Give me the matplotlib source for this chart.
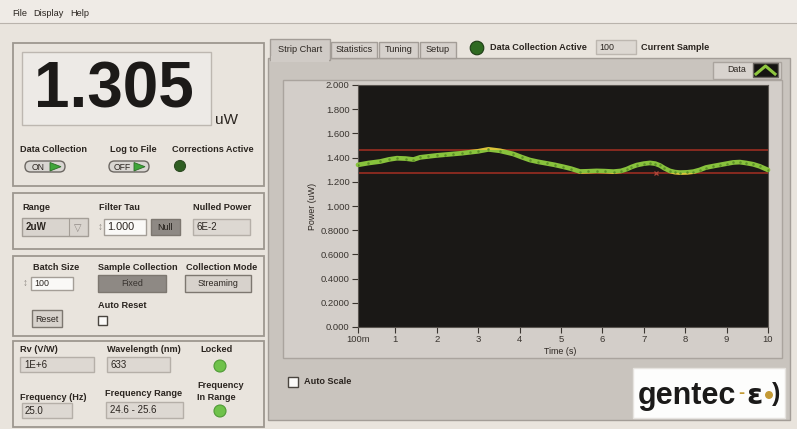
import matplotlib
matplotlib.use("Agg")
import matplotlib.pyplot as plt
from matplotlib.patches import Rectangle, FancyBboxPatch, Circle, Polygon

W, H = 797, 429
FONT = ["Liberation Sans", "DejaVu Sans"]

# strip chart samples
time_s = [0.1, 0.35, 0.64, 0.85, 1.04, 1.25, 1.44, 1.6, 1.8, 2.0, 2.2, 2.4, 2.6,
          2.8, 3.0, 3.25, 3.53, 3.85, 4.05, 4.25, 4.45, 4.66, 4.85, 5.06, 5.25,
          5.46, 5.66, 5.86, 6.06, 6.27, 6.45, 6.59, 6.7, 6.83, 7.0, 7.15, 7.28,
          7.39, 7.5, 7.63, 7.75, 7.87, 8.05, 8.2, 8.35, 8.5, 8.68, 8.84, 9.0,
          9.16, 9.32, 9.48, 9.64, 9.8, 10.0]
power_uw = [1.34, 1.355, 1.368, 1.385, 1.395, 1.392, 1.384, 1.402, 1.41, 1.418,
            1.424, 1.43, 1.436, 1.444, 1.452, 1.468, 1.456, 1.43, 1.404, 1.38,
            1.365, 1.352, 1.34, 1.324, 1.308, 1.285, 1.287, 1.29, 1.288, 1.284,
            1.29, 1.305, 1.322, 1.338, 1.35, 1.356, 1.35, 1.335, 1.312, 1.29,
            1.28, 1.276, 1.278, 1.284, 1.298, 1.318, 1.33, 1.34, 1.35, 1.36,
            1.363, 1.355, 1.345, 1.328, 1.298]
limit_high = 1.464
limit_low = 1.276
cursor_t = [7.3]
cursor_p = [1.275]

y_ticks = [0.0, 0.2, 0.4, 0.6, 0.8, 1.0, 1.2, 1.4, 1.6, 1.8, 2.0]
y_labels = ["0.000", "0.2000", "0.4000", "0.6000", "0.8000", "1.000",
            "1.200", "1.400", "1.600", "1.800", "2.000"]
x_ticks = [0.1, 1, 2, 3, 4, 5, 6, 7, 8, 9, 10]
x_labels = ["100m", "1", "2", "3", "4", "5", "6", "7", "8", "9", "10"]

BEIGE = "#e9e4dd"
GRAY = "#c9c4be"
EDGE = "#9d978f"
BOX = "#ddd8d2"

fig = plt.figure(figsize=(W / 100, H / 100), dpi=100)
fig.patch.set_facecolor(BEIGE)
ui = fig.add_axes([0, 0, 1, 1])
ui.set_xlim(0, W)
ui.set_ylim(H, 0)
ui.axis("off")


def rect(x, y, w, h, fc, ec=EDGE, lw=1.0, z=1):
    ui.add_patch(Rectangle((x, y), w, h, facecolor=fc, edgecolor=ec, lw=lw, zorder=z))


def label(x, y, s, size=6.6, bold=True, ha="left", color="#2b2520", **kw):
    ui.text(x, y, s, fontsize=size, fontweight="bold" if bold else "normal",
            ha=ha, va="center", color=color, family=FONT, zorder=5, **kw)


def led(x, y, r, fc, ec="#2d4a22"):
    ui.add_patch(Circle((x, y), r, facecolor=fc, edgecolor=ec, lw=0.8, zorder=4))


def button(x, y, w, h, s, fc="#d7d2cc", tc="#2b2520"):
    rect(x, y, w, h, fc, ec="#7d7770", lw=1.0, z=3)
    label(x + w / 2, y + h / 2 + 0.5, s, size=6.4, bold=False, ha="center", color=tc)


# menu bar
rect(0, 0, W, 23, "#efebe6", ec="none")
ui.plot([0, W], [23, 23], color="#b9b3ac", lw=0.8)
label(12, 13, "File", bold=False)
label(33, 13, "Display", bold=False)
label(70, 13, "Help", bold=False)

# left panel 1 - reading
rect(13, 43, 251, 143, BEIGE, lw=1.3)
rect(22, 52, 189, 73, "#edeae6", ec="#bdb7b0")
ui.text(114, 91, "1.305", fontsize=46, fontweight="bold", ha="center", va="center",
        color="#1c1a18", family=FONT, zorder=5)
label(215, 120, "uW", size=11, bold=False)
label(20, 150, "Data Collection")
label(110, 150, "Log to File")
label(172, 150, "Corrections Active")
for bx, txt in [(25, "ON"), (109, "OFF")]:
    ui.add_patch(FancyBboxPatch((bx, 161), 40, 11, boxstyle="round,pad=0,rounding_size=5.5",
                                facecolor="#d9d6d2", edgecolor="#6d6863", lw=1.0, zorder=3))
    label(bx + 13, 167, txt, size=6.2, bold=False, ha="center")
    ui.add_patch(Polygon([[bx + 25, 162.5], [bx + 25, 171], [bx + 36, 166.7]],
                         closed=True, facecolor="#3fa63a", edgecolor="#2c6b28", lw=0.6, zorder=4))
led(180, 166, 5.5, "#2f5e22")

# left panel 2 - range / filter
rect(13, 193, 251, 56, BEIGE, lw=1.3)
label(22, 208, "Range")
rect(22, 218, 66, 18, "#d9d4ce", ec="#a49e97", z=3)
label(26, 227, "2uW", size=7, bold=True)
ui.plot([69, 69], [219, 235], color="#a49e97", lw=0.8, zorder=4)
label(78, 228, "\u25bd", size=7, bold=False, ha="center", color="#8d8782")
label(99, 208, "Filter Tau")
label(100, 227, "\u2195", size=7, bold=False, ha="center", color="#8d8782")
rect(104, 219, 42, 16, "#faf9f7", ec="#a49e97", z=3)
label(107, 227, "1.000", size=7.8, bold=False)
button(151, 219, 29, 16, "Null", fc="#8e8984", tc="#201c18")
label(193, 208, "Nulled Power")
rect(193, 219, 57, 16, BOX, ec="#b5afa8", z=3)
label(197, 227, "6E-2", size=7, bold=False)

# left panel 3 - batch
rect(13, 256, 251, 80, BEIGE, lw=1.3)
label(33, 267, "Batch Size")
label(25, 283, "\u2195", size=7, bold=False, ha="center", color="#8d8782")
rect(31, 277, 42, 13, "#faf9f7", ec="#a49e97", z=3)
label(34, 283.5, "100", size=6.4, bold=False)
label(98, 267, "Sample Collection")
button(98, 275, 68, 17, "Fixed", fc="#8e8984", tc="#37322e")
label(186, 267, "Collection Mode")
button(185, 275, 66, 17, "Streaming")
label(98, 305, "Auto Reset")
rect(98, 316, 9, 9, "#fbfaf8", ec="#4a453f", z=3)
button(32, 310, 30, 17, "Reset")

# left panel 4 - detector info
rect(13, 341, 251, 86, BEIGE, lw=1.3)
label(20, 349, "Rv (V/W)")
rect(20, 357, 74, 15, BOX, ec="#b5afa8", z=3)
label(24, 365, "1E+6", size=7, bold=False)
label(107, 349, "Wavelength (nm)")
rect(107, 357, 63, 15, BOX, ec="#b5afa8", z=3)
label(111, 365, "633", size=7, bold=False)
label(200, 349, "Locked")
led(220, 366, 6, "#6fc24a", ec="#4f9a36")
label(20, 397, "Frequency (Hz)")
rect(22, 403, 50, 15, BOX, ec="#b5afa8", z=3)
label(25, 411, "25.0", size=7, bold=False)
label(105, 393, "Frequency Range")
rect(106, 402, 77, 16, BOX, ec="#b5afa8", z=3)
label(110, 410, "24.6 - 25.6", size=7, bold=False)
label(197, 385, "Frequency")
label(197, 397, "In Range")
led(220, 411, 6, "#6fc24a", ec="#4f9a36")

# right side - tab control
rect(268, 58, 522, 362, GRAY, ec="#a39d97", lw=1.0)
rect(270, 39, 60, 21, "#d0cbc6", ec="#a39d97", z=2)
rect(271, 56, 58, 6, "#d0cbc6", ec="none", z=2)
label(300, 49, "Strip Chart", size=6.6, bold=False, ha="center")
for tx, tw, tname in [(331, 46, "Statistics"), (379, 39, "Tuning"), (420, 36, "Setup")]:
    rect(tx, 42, tw, 16, "#d6d1cc", ec="#a39d97", z=2)
    label(tx + tw / 2, 50, tname, size=6.6, bold=False, ha="center")
led(477, 48, 6.8, "#2f6a22", ec="#1e3c16")
label(490, 48, "Data Collection Active")
rect(596, 40, 40, 14, BOX, ec="#bdb7b0", z=2)
label(599, 47, "100", size=6.4, bold=False)
label(641, 48, "Current Sample")

# chart frame and legend
rect(283, 80, 499, 278, "#d3cec9", ec="#aaa49e", z=2)
rect(713, 62, 68, 17, "#d8d3ce", ec="#aaa49e", z=2)
label(727, 70, "Data", size=6.4, bold=False)
rect(753, 63, 25, 14, "#151412", ec="#6b6661", z=3)
ui.plot([756, 765.5, 775], [74, 66, 74], color="#8fc640", lw=2.2, zorder=4)

label(560, 352, "Time (s)", size=6.4, bold=False, ha="center")
label(313, 206, "Power (uW)", size=6.4, bold=False, ha="center", rotation=90)

# auto scale + logo
rect(288, 377, 10, 10, "#fbfaf8", ec="#4a453f", z=3)
label(304, 382, "Auto Scale")
rect(633, 368, 152, 50, "#fdfdfc", ec="#e6e3df", z=3)
ui.text(638, 396, "gentec", fontsize=22, fontweight="bold", ha="left", va="center",
        color="#1b1a19", family=FONT, zorder=5)
ui.text(738, 394, "-", fontsize=13, fontweight="bold", ha="left", va="center",
        color="#c29a35", family=FONT, zorder=5)
ui.text(746, 396, "\u025b", fontsize=21, fontweight="bold", ha="left", va="center",
        color="#1b1a19", family="DejaVu Sans", zorder=5)
led(769, 395, 3.4, "#c49a35", ec="#c49a35")
ui.text(772, 394, ")", fontsize=18, fontweight="bold", ha="left", va="center",
        color="#1b1a19", family=FONT, zorder=5)

# strip chart axes
ax = fig.add_axes([358 / W, 1 - 327 / H, 410 / W, 242 / H])
ax.set_facecolor("#1a1816")
ax.set_xlim(0.1, 10)
ax.set_ylim(0, 2.0)
ax.set_xticks(x_ticks)
ax.set_xticklabels(x_labels)
ax.set_yticks(y_ticks)
ax.set_yticklabels(y_labels)
ax.tick_params(labelsize=6.8, colors="#3a3530", length=4, width=0.8, direction="out", pad=2)
for lab in ax.get_xticklabels() + ax.get_yticklabels():
    lab.set_family(FONT)
for sp in ax.spines.values():
    sp.set_color("#5a5550")
    sp.set_linewidth(0.8)

ax.axhline(limit_high, color="#9a2d22", lw=1.2, zorder=2)
ax.axhline(limit_low, color="#9a2d22", lw=1.2, zorder=2)
inside = Rectangle((0, limit_low), 20, limit_high - limit_low, transform=ax.transData)
above = Rectangle((0, limit_high), 20, 5, transform=ax.transData)
below = Rectangle((0, -5), 20, limit_low + 5, transform=ax.transData)
ln, = ax.plot(time_s, power_uw, color="#88c23c", lw=3.4, zorder=3, solid_capstyle="round")
ln.set_clip_path(inside)
for part in (above, below):
    yl, = ax.plot(time_s, power_uw, color="#d9c43a", lw=3.4, zorder=3)
    yl.set_clip_path(part)
ax.plot(time_s, power_uw, ls="none", marker=".", ms=1.6, color="#5c8f28", zorder=4)
ax.plot(cursor_t, cursor_p, ls="none", marker="x", ms=3.5, mew=0.9, color="#b0463a", zorder=5)

fig.savefig("out.png", dpi=100, facecolor=fig.get_facecolor())
